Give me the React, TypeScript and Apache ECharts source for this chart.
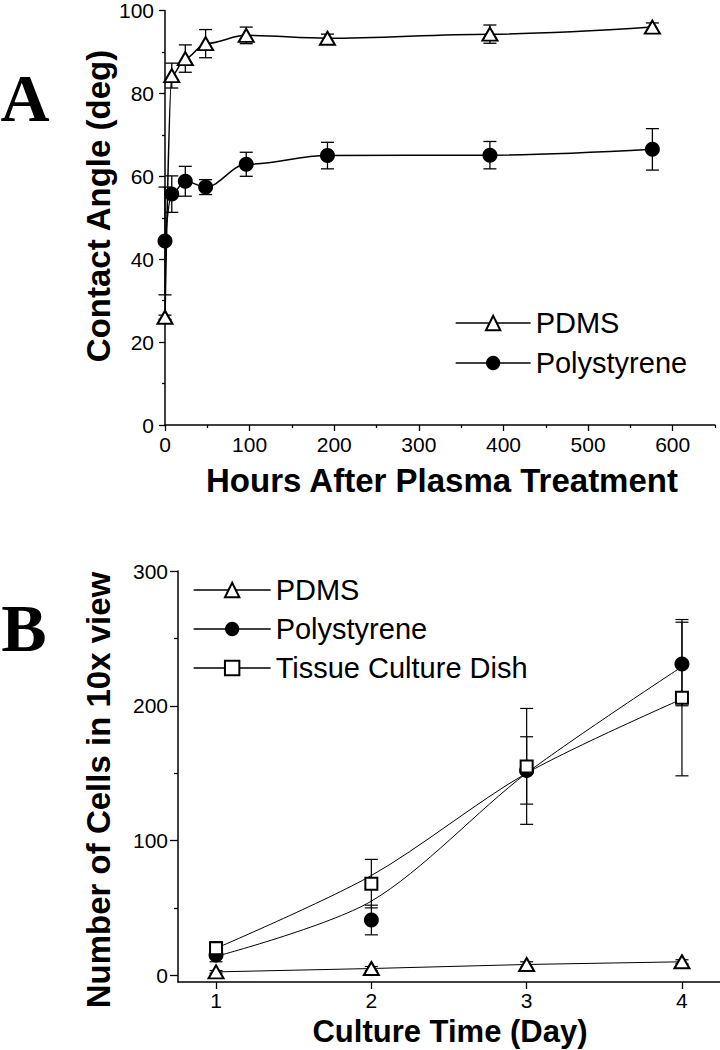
import React, { useEffect, useRef } from "react";
import * as echarts from "echarts";

// ---------- Panel A: contact angle vs hours ----------
const hoursA = [0, 8, 24, 48, 96, 192, 384, 576];
const pdmsA = [26, 84.3, 88.4, 92, 94, 93.3, 94.3, 96];
const pdmsErrA = [0.5, 3, 3.3, 3.4, 2, 1, 2.2, 1];
const psA = [44.4, 55.7, 58.8, 57.4, 62.9, 65, 65.1, 66.5];
const psErrA = [13, 4.4, 3.6, 1.8, 2.9, 3.2, 3.3, 5];
const xTicksA = [0, 100, 200, 300, 400, 500, 600];
const xMinorA = [50, 150, 250, 350, 450, 550, 650];

// ---------- Panel B: cells vs culture day ----------
const daysB = [1, 2, 3, 4];
const pdmsB = [2.5, 5, 8, 10];
const pdmsErrB = [1, 1.5, 2, 1.5];
const psB = [15, 41, 152, 231];
const psErrB = [5, 11, 25, 31];
const tcdB = [20, 68, 155, 206];
const tcdErrB = [5, 18, 43, 58];
const psFitB = [14, 55, 150, 229];
const tcdFitB = [20, 74, 150, 205];
const yTicksB = [0, 100, 200, 300];
const yMinorB = [50, 150, 250];

const legendLabelsB: Record<string, string> = {
  PDMS_B: "PDMS",
  PS_B: "Polystyrene",
  TCD_B: "Tissue Culture Dish",
};

const SANS = "'Liberation Sans', Arial, sans-serif";
const SERIF = "'Liberation Serif', 'Times New Roman', serif";

const pts = (xs: number[], ys: number[]) => xs.map((x, i) => [x, ys[i]]);
const errData = (xs: number[], ys: number[], es: number[]) =>
  xs.map((x, i) => [x, ys[i] - es[i], ys[i] + es[i]]);

function errSeries(xIdx: number, yIdx: number, data: number[][], lw: number) {
  return {
    type: "custom",
    xAxisIndex: xIdx,
    yAxisIndex: yIdx,
    z: 1,
    silent: true,
    encode: { x: 0, y: [1, 2] },
    data,
    renderItem: (_p: any, api: any) => {
      const x = api.value(0);
      const a = api.coord([x, api.value(1)]);
      const b = api.coord([x, api.value(2)]);
      const w = 6.5;
      const style = { stroke: "#000", lineWidth: lw, fill: null };
      return {
        type: "group",
        children: [
          { type: "line", shape: { x1: a[0], y1: a[1], x2: b[0], y2: b[1] }, style },
          { type: "line", shape: { x1: a[0] - w, y1: a[1], x2: a[0] + w, y2: a[1] }, style },
          { type: "line", shape: { x1: b[0] - w, y1: b[1], x2: b[0] + w, y2: b[1] }, style },
        ],
      };
    },
  };
}

const axisLine = { show: true, onZero: false, lineStyle: { color: "#000", width: 1.5 } };
const tickLine = { color: "#000", width: 1.3 };
const labelA = { color: "#000", fontSize: 21, fontFamily: SANS };
const labelB = { color: "#000", fontSize: 21, fontFamily: SANS };
const legendText = { fontSize: 29, lineHeight: 30, fontFamily: SANS, color: "#000" };

export default function App() {
  const ref = useRef<HTMLDivElement>(null);

  useEffect(() => {
    if (!ref.current) return;
    const chart = echarts.init(ref.current, undefined, { renderer: "svg" });
    const titleText = (text: string, x: number, y: number, rot = 0, size = 33) => ({
      type: "text",
      x,
      y,
      rotation: rot,
      silent: true,
      style: {
        text,
        fill: "#000",
        fontSize: size,
        fontWeight: "bold",
        fontFamily: SANS,
        align: "center",
        verticalAlign: "middle",
      },
    });
    const panelLetter = (text: string, x: number, y: number) => ({
      type: "text",
      x,
      y,
      silent: true,
      style: {
        text,
        fill: "#000",
        fontSize: 68,
        fontWeight: "bold",
        fontFamily: SERIF,
        align: "center",
        verticalAlign: "middle",
      },
    });
    const option: any = {
      animation: false,
      backgroundColor: "#fff",
      grid: [
        { left: 165, top: 10, width: 550, height: 415 },
        { left: 178, top: 571, width: 542, height: 411 },
      ],
      xAxis: [
        {
          gridIndex: 0,
          type: "value",
          min: 0,
          max: 650,
          position: "bottom",
          axisLine,
          axisTick: { show: true, customValues: xTicksA, length: 6, lineStyle: tickLine },
          axisLabel: { customValues: xTicksA, margin: 9, ...labelA },
          splitLine: { show: false },
        },
        {
          gridIndex: 0,
          type: "value",
          min: 0,
          max: 650,
          position: "bottom",
          axisLine: { show: false, onZero: false },
          axisTick: { show: true, customValues: xMinorA, length: 3, lineStyle: tickLine },
          axisLabel: { show: false },
          splitLine: { show: false },
        },
        {
          gridIndex: 1,
          type: "value",
          min: 0.755,
          max: 4.245,
          position: "bottom",
          axisLine,
          axisTick: { show: true, customValues: daysB, length: 7, lineStyle: tickLine },
          axisLabel: { customValues: daysB, margin: 8, ...labelB },
          splitLine: { show: false },
        },
      ],
      yAxis: [
        {
          gridIndex: 0,
          type: "value",
          min: 0,
          max: 100,
          interval: 20,
          position: "left",
          axisLine,
          axisTick: { show: true, length: 6, lineStyle: tickLine },
          minorTick: { show: true, splitNumber: 2, length: 3, lineStyle: tickLine },
          axisLabel: { margin: 11, ...labelA },
          splitLine: { show: false },
          minorSplitLine: { show: false },
        },
        {
          gridIndex: 1,
          type: "value",
          min: -5,
          max: 300,
          position: "left",
          axisLine,
          axisTick: { show: true, customValues: yTicksB, length: 8, lineStyle: tickLine },
          axisLabel: { customValues: yTicksB, margin: 10, ...labelB },
          splitLine: { show: false },
        },
        {
          gridIndex: 1,
          type: "value",
          min: -5,
          max: 300,
          position: "left",
          axisLine: { show: false, onZero: false },
          axisTick: { show: true, customValues: yMinorB, length: 4, lineStyle: tickLine },
          axisLabel: { show: false },
          splitLine: { show: false },
        },
      ],
      legend: [
        {
          data: ["PDMS", "Polystyrene"],
          orient: "vertical",
          left: 455,
          top: 308,
          padding: 0,
          itemWidth: 75,
          itemHeight: 18,
          itemGap: 10,
          selectedMode: false,
          textStyle: legendText,
          lineStyle: { color: "#000", width: 1.3, opacity: 1 },
        },
        {
          data: ["PDMS_B", "PS_B", "TCD_B"],
          formatter: (n: string) => legendLabelsB[n] || n,
          orient: "vertical",
          left: 193,
          top: 575,
          padding: 0,
          itemWidth: 77,
          itemHeight: 18,
          itemGap: 9,
          selectedMode: false,
          textStyle: legendText,
          lineStyle: { color: "#000", width: 1.3, opacity: 1 },
        },
      ],
      graphic: [
        panelLetter("A", 25, 98),
        panelLetter("B", 24, 628),
        titleText("Contact Angle (deg)", 98, 206, Math.PI / 2),
        titleText("Hours After Plasma Treatment", 442, 480),
        titleText("Number of Cells in 10x view", 98, 790, Math.PI / 2),
        titleText("Culture Time (Day)", 450, 1031, 0, 31),
      ],
      series: [
        errSeries(0, 0, errData(hoursA, pdmsA, pdmsErrA), 1.3),
        errSeries(0, 0, errData(hoursA, psA, psErrA), 1.3),
        {
          type: "line",
          name: "PDMS",
          xAxisIndex: 0,
          yAxisIndex: 0,
          data: pts(hoursA, pdmsA),
          smooth: 0.35,
          smoothMonotone: "x",
          clip: false,
          symbol: "emptyTriangle",
          symbolSize: [15, 13],
          itemStyle: { color: "#000", borderColor: "#000", borderWidth: 2 },
          lineStyle: { color: "#000", width: 1.5 },
          z: 3,
          silent: true,
        },
        {
          type: "line",
          name: "Polystyrene",
          xAxisIndex: 0,
          yAxisIndex: 0,
          data: pts(hoursA, psA),
          smooth: 0.35,
          smoothMonotone: "x",
          clip: false,
          symbol: "circle",
          symbolSize: 15,
          itemStyle: { color: "#000", borderWidth: 0 },
          lineStyle: { color: "#000", width: 1.5 },
          z: 3,
          silent: true,
        },
        errSeries(2, 1, errData(daysB, pdmsB, pdmsErrB), 1.2),
        errSeries(2, 1, errData(daysB, psB, psErrB), 1.2),
        errSeries(2, 1, errData(daysB, tcdB, tcdErrB), 1.2),
        {
          type: "line",
          name: "psFit",
          xAxisIndex: 2,
          yAxisIndex: 1,
          data: pts(daysB, psFitB),
          smooth: 0.3,
          symbol: "none",
          lineStyle: { color: "#000", width: 1 },
          z: 2,
          silent: true,
        },
        {
          type: "line",
          name: "tcdFit",
          xAxisIndex: 2,
          yAxisIndex: 1,
          data: pts(daysB, tcdFitB),
          smooth: 0.3,
          symbol: "none",
          lineStyle: { color: "#000", width: 1 },
          z: 2,
          silent: true,
        },
        {
          type: "line",
          name: "PDMS_B",
          xAxisIndex: 2,
          yAxisIndex: 1,
          data: pts(daysB, pdmsB),
          clip: false,
          symbol: "emptyTriangle",
          symbolSize: [15, 13],
          itemStyle: { color: "#000", borderColor: "#000", borderWidth: 2 },
          lineStyle: { color: "#000", width: 1 },
          z: 3,
          silent: true,
        },
        {
          type: "line",
          name: "PS_B",
          xAxisIndex: 2,
          yAxisIndex: 1,
          data: pts(daysB, psB),
          clip: false,
          symbol: "circle",
          symbolSize: 15,
          itemStyle: { color: "#000", borderWidth: 0 },
          lineStyle: { color: "#000", width: 1, opacity: 0 },
          z: 3,
          silent: true,
        },
        {
          type: "line",
          name: "TCD_B",
          xAxisIndex: 2,
          yAxisIndex: 1,
          data: pts(daysB, tcdB),
          clip: false,
          symbol: "emptyRect",
          symbolSize: 12,
          itemStyle: { color: "#000", borderColor: "#000", borderWidth: 2 },
          lineStyle: { color: "#000", width: 1, opacity: 0 },
          z: 3,
          silent: true,
        },
      ],
    };
    chart.setOption(option);
    return () => chart.dispose();
  }, []);

  return (
    <div
      ref={ref}
      style={{ position: "fixed", left: 0, top: 0, width: 720, height: 1050, background: "#fff" }}
    />
  );
}
